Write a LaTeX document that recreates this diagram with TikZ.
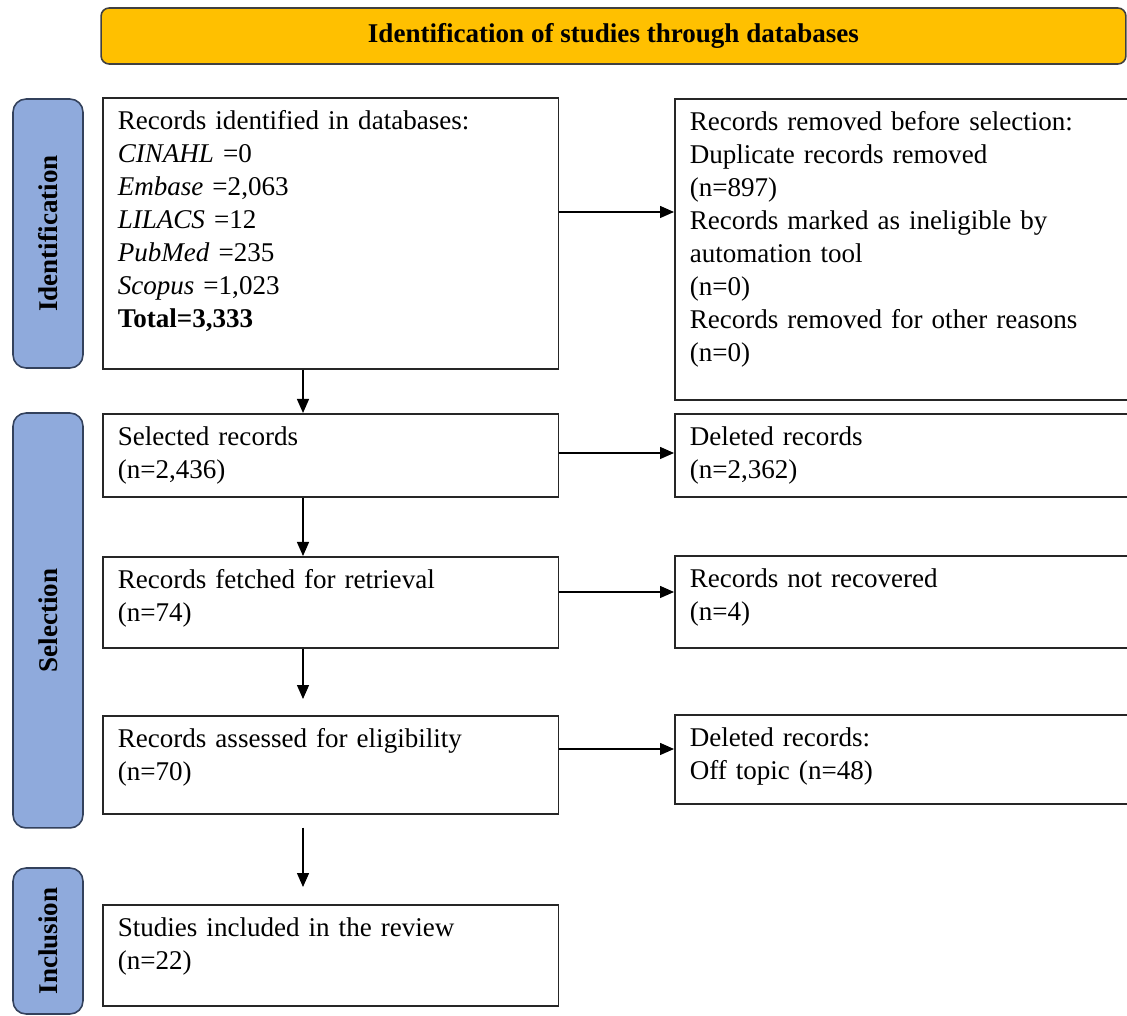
\documentclass[tikz,border=0pt]{standalone}
\usepackage{fontspec}
\setmainfont{Liberation Serif}
\usetikzlibrary{arrows.meta}
\definecolor{bannerorange}{HTML}{FFC000}
\definecolor{phasefill}{HTML}{8FAADC}
\definecolor{phasedraw}{HTML}{33415C}
\tikzset{
  txt/.style={font=\fontsize{15.4}{18.8}\selectfont},
  recbox/.style={txt, draw=black!85, line width=0.9pt, anchor=north west, align=left, inner xsep=0.3cm, inner ysep=0pt, text height=0.64cm},
  leftbox/.style={recbox, text width=8.52cm},
  rightbox/.style={recbox, text width=8.72cm},
  phase/.style={draw=phasedraw, fill=phasefill, line width=0.9pt, rounded corners=0.26cm, rotate=90, minimum height=1.4cm, inner sep=0pt, font=\fontsize{15.4}{18.8}\selectfont\bfseries},
  arr/.style={line width=0.8pt, -{Triangle[length=0.28cm,width=0.24cm]}}
}
\begin{document}
\begin{tikzpicture}[x=0.02cm, y=-0.02cm]
\clip[use as bounding box] (0,0) rectangle (1127,1016);
\node[draw=black!75, fill=bannerorange, line width=0.9pt, rounded corners=0.16cm, minimum width=20.5cm, minimum height=1.12cm, font=\fontsize{15.4}{18.8}\selectfont\bfseries] (banner) at (613.5,36) {Identification of studies through databases};
\node[phase, minimum width=5.38cm] (idphase) at (48,233.5) {Identification};
\node[phase, minimum width=8.3cm] (selphase) at (48,620.5) {Selection};
\node[phase, minimum width=2.92cm] (incphase) at (48,941) {Inclusion};
\node[leftbox, text depth=4.78cm] (ident) at (102,97) {Records identified in databases:\\
\textit{CINAHL} =0\\
\textit{Embase} =2,063\\
\textit{LILACS} =12\\
\textit{PubMed} =235\\
\textit{Scopus} =1,023\\
\textbf{Total=3,333}};
\node[rightbox, text depth=5.38cm] (removed) at (674,98) {Records removed before selection:\\
Duplicate records removed\\
(n=897)\\
Records marked as ineligible by\\
automation tool\\
(n=0)\\
Records removed for other reasons\\
(n=0)};
\node[leftbox, text depth=1.02cm] (selected) at (102,413) {Selected records\\(n=2,436)};
\node[rightbox, text depth=1.02cm] (deleted) at (674,413) {Deleted records\\(n=2,362)};
\node[leftbox, text depth=1.18cm] (fetched) at (102,556) {Records fetched for retrieval\\(n=74)};
\node[rightbox, text depth=1.2cm] (notrec) at (674,555) {Records not recovered\\(n=4)};
\node[leftbox, text depth=1.32cm] (assessed) at (102,715) {Records assessed for eligibility\\(n=70)};
\node[rightbox, text depth=1.14cm] (offtopic) at (674,714) {Deleted records:\\Off topic (n=48)};
\node[leftbox, text depth=1.38cm] (included) at (102,904) {Studies included in the review\\(n=22)};
\coordinate (spine) at (303,0);
\coordinate (row1) at (0,212);
\coordinate (row2) at (0,453);
\coordinate (row3) at (0,592);
\coordinate (row4) at (0,749);
\draw[arr] (ident.south -| spine) -- (selected.north -| spine);
\draw[arr] (selected.south -| spine) -- (fetched.north -| spine);
\draw[arr, shorten >=0.32cm] (fetched.south -| spine) -- (assessed.north -| spine);
\draw[arr, shorten <=0.26cm, shorten >=0.34cm] (assessed.south -| spine) -- (included.north -| spine);
\draw[arr] (ident.east |- row1) -- (removed.west |- row1);
\draw[arr] (selected.east |- row2) -- (deleted.west |- row2);
\draw[arr] (fetched.east |- row3) -- (notrec.west |- row3);
\draw[arr] (assessed.east |- row4) -- (offtopic.west |- row4);
\end{tikzpicture}
\end{document}
